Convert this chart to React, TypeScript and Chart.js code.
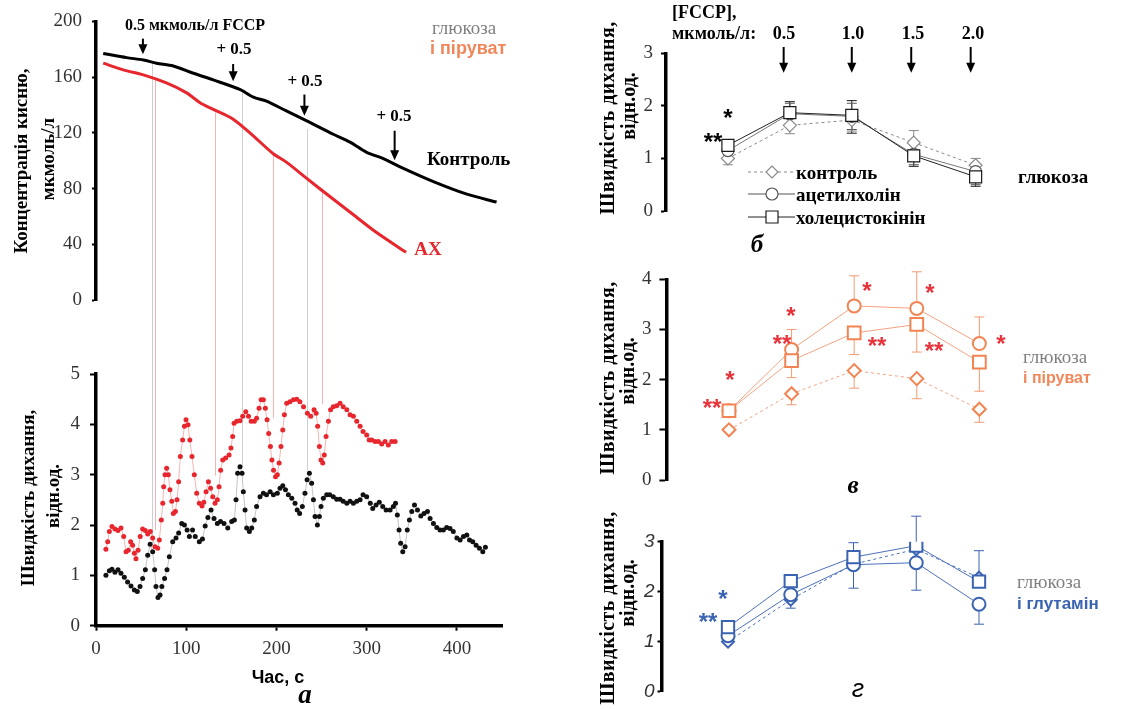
import React, { useEffect, useRef } from 'react';
import { Chart, registerables } from 'chart.js';
Chart.register(...registerables);

const SERIF = '"Liberation Serif", "Times New Roman", serif';
const SANS = '"Liberation Sans", Arial, sans-serif';
const RED = '#E8262D';
const ORANGE = '#F28454';
const ORANGE_LINE = '#F6A282';
const BLUE = '#3A63B2';
const STAR_RED = '#E8333B';

// ---------- Panel a (top): oxygen concentration ----------
const o2TimeControl = [8, 34, 52.5, 67, 85.7, 108, 130, 160, 174.4, 189, 211, 233.6, 263, 281.6, 300, 318.5, 337, 374, 411, 444];
const o2Control = [177, 174, 172.3, 170, 168, 162.8, 158, 151, 145.6, 142.8, 135.7, 128.6, 119, 113.3, 106, 101.5, 95.6, 85, 76, 70.3];
const o2TimeAch = [8, 30.3, 52.5, 78, 100.5, 115.3, 130, 152, 174, 196.5, 211, 233.6, 252, 285, 311, 343.7];
const o2Ach = [170, 165.2, 161.6, 155.8, 148.7, 141.6, 136.8, 129.8, 118, 105, 99, 87.3, 77.9, 61.4, 48.4, 34.2];
const o2TickStep = 40;

const fccpArrowTime = [52, 152, 231, 331];
const fccpArrowTail = [187.6, 169.4, 147.5, 121.5];
const fccpArrowTip = [176.5, 157, 132.2, 100.3];

// guide lines linking both plots of panel a
const guideTime = [62, 65.5, 132, 162, 196.5, 234, 250];
const guideKind = ['k', 'r', 'r', 'k', 'r', 'k', 'r'];
const guideTopO2 = [170.4, 159.3, 134.5, 149.9, 105, 122.7, 80.2];
const guideRate = [1.64, 1.9, 2.98, 3.16, 4.12, 3.08, 4.4];

// ---------- Panel a (bottom): respiration rate ----------
const rateTimeControl = [
  11, 14.8, 17.7, 21, 24.4, 27.7, 31.4, 35, 38.8, 42.5,
  45.8, 48.8, 51.7, 54.7, 57.3, 60, 62.8, 65, 66.5, 68.7,
  71, 73, 76, 78.7, 81.3, 85, 88.7, 91.6, 95, 98,
  101, 103.5, 107, 110, 114.5, 118, 121, 124, 127.5, 130.8,
  134.5, 138, 141.9, 146, 150.4, 153.4, 155.2, 157, 159.6, 161.9,
  163.3, 165.2, 167, 170, 172.6, 175.5, 178, 181.8, 185.5, 189,
  193, 196.6, 201, 204, 207, 210, 213.2, 217, 220.6, 223,
  225.7, 228.7, 231.6, 234, 236.5, 239, 241, 242.8, 245.4, 247.6,
  249.4, 252, 255.7, 259, 263, 266.8, 270.5, 274, 278, 281.6,
  285.3, 289, 292.7, 296, 300, 304, 306.7, 310.4, 314, 317.8,
  321.5, 326, 329.6, 332, 334, 335.9, 337.7, 340, 342.6, 345,
  347.4, 350, 353, 356.3, 360, 363.6, 367.4, 370.3, 374, 377.7,
  381.3, 385, 388.7, 392.4, 396, 400, 403.6, 407.3, 411, 414,
  417.6, 421.3, 425, 428.7, 431.6,
];
const rateControl = [
  1.0, 1.09, 1.12, 1.06, 1.11, 1.04, 0.96, 0.87, 0.79, 0.71,
  0.68, 0.78, 0.94, 1.11, 1.4, 1.62, 1.47, 1.11, 0.78, 0.56,
  0.61, 0.78, 0.94, 1.11, 1.37, 1.67, 1.74, 1.84, 2.03, 2.0,
  1.9, 1.77, 1.9, 1.77, 1.67, 1.72, 1.98, 2.15, 2.3, 2.13,
  2.03, 2.07, 2.03, 1.94, 2.07, 2.1, 2.5, 3.03, 3.16, 3.03,
  2.66, 2.3, 1.94, 1.87, 1.94, 2.1, 2.37, 2.56, 2.63, 2.6,
  2.66, 2.6, 2.63, 2.73, 2.78, 2.7, 2.6, 2.53, 2.43, 2.3,
  2.23, 2.37, 2.63, 2.9, 3.03, 2.83, 2.5, 2.17, 2.0, 2.17,
  2.37, 2.53, 2.6, 2.6, 2.56, 2.51, 2.51, 2.47, 2.43, 2.47,
  2.43, 2.47, 2.5, 2.6, 2.56, 2.43, 2.33, 2.4, 2.45, 2.37,
  2.3, 2.3, 2.37, 2.43, 2.2, 1.9, 1.64, 1.47, 1.57, 1.9,
  2.1, 2.27, 2.4, 2.3, 2.18, 2.23, 2.27, 2.13, 2.03, 1.95,
  1.9, 1.9, 1.95, 1.93, 1.87, 1.74, 1.7, 1.77, 1.8, 1.7,
  1.67, 1.6, 1.54, 1.47, 1.56,
];
const rateTimeAch = [
  11, 13, 14.8, 17.7, 21, 24.4, 27.7, 30.7, 33.3, 35.8,
  38.4, 40.6, 42.5, 44.3, 46.6, 49, 51.7, 54.7, 57.3, 60.2,
  62.8, 65.4, 68.4, 70.2, 72.4, 74, 75, 76.5, 78.3, 80.2,
  82, 84, 85.7, 88, 89.8, 91.6, 93.5, 96, 98, 99.8,
  102, 104, 106.4, 109, 111.6, 114.5, 117.5, 119.5, 122, 124.6,
  127, 129.4, 131.9, 134.5, 136.4, 138.2, 140.5, 143.7, 147.5, 149.6,
  151.5, 153, 156, 159.6, 162.6, 166, 169, 172, 175.5, 178,
  180.7, 183, 185.5, 187.7, 189.6, 191.4, 193.3, 195, 196.8, 199,
  201, 203, 205, 207, 208.8, 211.4, 215, 218.8, 222.5, 226,
  230, 234.3, 238, 241.7, 244, 245.7, 247.6, 249.4, 251.3, 253,
  255, 257.6, 260, 263, 266.8, 270.5, 274, 278, 281.6, 285.3,
  289, 292.7, 296, 300, 302.8, 305.7, 309.4, 313, 316.7, 320.4,
  324, 327.8, 331.5,
];
const rateAch = [
  1.52, 1.67, 1.87, 1.97, 1.92, 1.89, 1.94, 1.77, 1.47, 1.5,
  1.67, 1.6, 1.44, 1.33, 1.5, 1.77, 1.92, 1.89, 1.82, 1.87,
  1.74, 1.57, 1.54, 1.7, 2.1, 2.43, 2.76, 3.0, 3.13, 3.0,
  2.7, 2.47, 2.23, 2.27, 2.5, 2.86, 3.36, 3.69, 3.96, 4.09,
  3.99, 3.69, 3.36, 3.0, 2.63, 2.43, 2.38, 2.45, 2.66, 2.86,
  2.73, 2.56, 2.43, 2.5, 2.76, 3.09, 3.29, 3.33, 3.39, 3.53,
  3.76, 4.02, 4.06, 4.07, 4.16, 4.25, 4.16, 4.06, 4.06, 4.12,
  4.32, 4.49, 4.49, 4.32, 4.09, 3.82, 3.56, 3.29, 3.09, 2.96,
  3.0, 3.23, 3.56, 3.89, 4.19, 4.42, 4.45, 4.49, 4.5, 4.45,
  4.35, 4.22, 4.16, 4.29, 4.22, 3.96, 3.56, 3.29, 3.23, 3.39,
  3.76, 4.06, 4.29, 4.35, 4.37, 4.42, 4.35, 4.29, 4.19, 4.16,
  4.06, 3.96, 3.86, 3.79, 3.69, 3.69, 3.66, 3.66, 3.61, 3.66,
  3.59, 3.66, 3.66,
];

// ---------- Panels б, в, г ----------
const fccpDose = [0, 0.5, 1.0, 1.5, 2.0];
const doseArrowX = [0.45, 1.0, 1.48, 1.96];
const doseArrowTail = 3.12;
const doseArrowTip = 2.63;

// б: glucose
const bControl = [1.0, 1.63, 1.73, 1.3, 0.87];
const bAch = [1.15, 1.85, 1.8, 1.08, 0.75];
const bCck = [1.25, 1.87, 1.82, 1.05, 0.65];
const bControlLow = [0.88, 1.47, 1.52, null, null];
const bControlHigh = [null, null, null, 1.53, 1.0];
const bAchLow = [null, null, 1.55, 0.88, 0.5];
const bAchHigh = [null, 2.05, 2.05, null, null];
const bCckLow = [null, null, 1.48, 0.85, 0.47];
const bCckHigh = [null, 2.08, 2.1, null, null];

// в: glucose + pyruvate
const vControl = [1.0, 1.72, 2.18, 2.02, 1.41];
const vAch = [1.38, 2.6, 3.47, 3.42, 2.72];
const vCck = [1.38, 2.38, 2.93, 3.1, 2.35];
const vControlLow = [null, 1.5, 1.83, 1.62, 1.15];
const vAchHigh = [null, 3.0, 4.07, 4.15, 3.25];
const vCckLow = [null, 2.04, 2.5, 2.55, 1.77];

// г: glucose + glutamine
const gControl = [1.0, 1.84, 2.55, 2.85, 2.28];
const gAch = [1.12, 1.94, 2.54, 2.58, 1.75];
const gCck = [1.29, 2.21, 2.69, 2.92, 2.2];
const gControlLow = [null, 1.67, null, null, null];
const gAchLow = [null, null, 2.07, 2.03, 1.35];
const gCckHigh = [null, null, 2.98, 3.51, 2.82];

const legendLabels = ['контроль', 'ацетилхолін', 'холецистокінін'];

// ---------- helpers ----------
const pts = (xs: number[], ys: number[]) => xs.map((x, i) => ({ x, y: ys[i] }));

function drawArrow(ctx: CanvasRenderingContext2D, x: number, y1: number, y2: number) {
  const head = 10, hw = 4.5;
  ctx.save();
  ctx.strokeStyle = '#000';
  ctx.fillStyle = '#000';
  ctx.lineWidth = 2;
  ctx.beginPath();
  ctx.moveTo(x, y1);
  ctx.lineTo(x, y2 - head + 1);
  ctx.stroke();
  ctx.beginPath();
  ctx.moveTo(x - hw, y2 - head);
  ctx.lineTo(x + hw, y2 - head);
  ctx.lineTo(x, y2);
  ctx.closePath();
  ctx.fill();
  ctx.restore();
}

function drawMarker(ctx: CanvasRenderingContext2D, style: string, x: number, y: number, r: number) {
  ctx.beginPath();
  if (style === 'circle') ctx.arc(x, y, r, 0, Math.PI * 2);
  else if (style === 'rect') {
    const s = r * Math.SQRT1_2;
    ctx.rect(x - s, y - s, 2 * s, 2 * s);
  } else {
    ctx.moveTo(x, y - r);
    ctx.lineTo(x + r, y);
    ctx.lineTo(x, y + r);
    ctx.lineTo(x - r, y);
    ctx.closePath();
  }
  ctx.fillStyle = '#fff';
  ctx.fill();
  ctx.stroke();
}

function yAxis(min: number, max: number, step: number, width: number, font: any, tickLen: number, pad: number) {
  return {
    type: 'linear',
    position: 'left',
    min,
    max,
    ticks: { stepSize: step, font, color: '#333', padding: pad, includeBounds: false },
    grid: { drawOnChartArea: false, drawTicks: true, tickLength: tickLen, tickWidth: 2, tickColor: '#000' },
    border: { display: true, color: '#000', width: 3.5 },
    afterFit: (s: any) => {
      s.width = width;
    },
  };
}

function xHidden(min: number, max: number) {
  return { type: 'linear', display: false, min, max };
}

function baseOptions(padding: any, scales: any) {
  return {
    responsive: false,
    maintainAspectRatio: false,
    animation: false,
    events: [],
    layout: { padding },
    plugins: { legend: { display: false }, tooltip: { enabled: false } },
    scales,
  };
}

const errorBarsPlugin = {
  id: 'errorBars',
  beforeDatasetsDraw(chart: any) {
    const { ctx } = chart;
    const x = chart.scales.x;
    const y = chart.scales.y;
    chart.data.datasets.forEach((ds: any) => {
      ctx.save();
      ctx.strokeStyle = ds.errColor || ds.borderColor;
      ctx.lineWidth = 1;
      ds.data.forEach((p: any, i: number) => {
        const px = x.getPixelForValue(p.x);
        const py = y.getPixelForValue(p.y);
        [ds.errLow ? ds.errLow[i] : null, ds.errHigh ? ds.errHigh[i] : null].forEach((v: any) => {
          if (v == null) return;
          const ey = y.getPixelForValue(v);
          ctx.beginPath();
          ctx.moveTo(px, py);
          ctx.lineTo(px, ey);
          ctx.moveTo(px - 5, ey);
          ctx.lineTo(px + 5, ey);
          ctx.stroke();
        });
      });
      ctx.restore();
    });
  },
};

// ---------- chart configs ----------
const tlConfig = () => ({
  type: 'line',
  data: {
    datasets: [
      { data: pts(o2TimeControl, o2Control), borderColor: '#000', borderWidth: 3, pointRadius: 0, tension: 0.3 },
      { data: pts(o2TimeAch, o2Ach), borderColor: RED, borderWidth: 3, pointRadius: 0, tension: 0.3 },
    ],
  },
  options: baseOptions(
    { top: 17.5, right: 18, bottom: 30, left: 0 },
    {
      x: xHidden(0, 450),
      y: yAxis(0, 200, o2TickStep, 96, { family: SERIF, size: 19 }, 4, 10),
    }
  ),
  plugins: [
    {
      id: 'tlExtras',
      beforeDatasetsDraw(chart: any) {
        const { ctx } = chart;
        const x = chart.scales.x;
        const y = chart.scales.y;
        ctx.save();
        ctx.lineWidth = 1;
        guideTime.forEach((t, i) => {
          const px = Math.round(x.getPixelForValue(t)) + 0.5;
          ctx.strokeStyle = guideKind[i] === 'k' ? '#cfcfcf' : '#f4b4b4';
          ctx.beginPath();
          ctx.moveTo(px, y.getPixelForValue(guideTopO2[i]));
          ctx.lineTo(px, chart.height);
          ctx.stroke();
        });
        ctx.restore();
      },
      afterDatasetsDraw(chart: any) {
        const { ctx } = chart;
        const x = chart.scales.x;
        const y = chart.scales.y;
        fccpArrowTime.forEach((t, i) => {
          drawArrow(ctx, x.getPixelForValue(t), y.getPixelForValue(fccpArrowTail[i]), y.getPixelForValue(fccpArrowTip[i]));
        });
      },
    },
  ],
});

const blConfig = () => ({
  type: 'line',
  data: {
    datasets: [
      {
        data: pts(rateTimeAch, rateAch),
        borderColor: '#f6b3b3',
        borderWidth: 1,
        pointRadius: 2.5,
        pointBorderWidth: 0,
        pointBackgroundColor: RED,
      },
      {
        data: pts(rateTimeControl, rateControl),
        borderColor: '#c4c4c4',
        borderWidth: 1,
        pointRadius: 2.5,
        pointBorderWidth: 0,
        pointBackgroundColor: '#111',
      },
    ],
  },
  options: baseOptions(
    { top: 44, right: 18, bottom: 0, left: 0 },
    {
      x: {
        type: 'linear',
        min: 0,
        max: 450,
        ticks: { stepSize: 100, includeBounds: false, font: { family: SERIF, size: 19 }, color: '#333', padding: 7 },
        grid: { drawOnChartArea: false, drawTicks: true, tickLength: 5, tickWidth: 2, tickColor: '#000' },
        border: { display: true, color: '#000', width: 3.5 },
        afterFit: (s: any) => {
          s.height = 83.3;
        },
      },
      y: yAxis(0, 5, 1, 96, { family: SERIF, size: 19 }, 6, 10),
    }
  ),
  plugins: [
    {
      id: 'blGuides',
      beforeDatasetsDraw(chart: any) {
        const { ctx } = chart;
        const x = chart.scales.x;
        const y = chart.scales.y;
        ctx.save();
        ctx.lineWidth = 1;
        guideTime.forEach((t, i) => {
          const px = Math.round(x.getPixelForValue(t)) + 0.5;
          ctx.strokeStyle = guideKind[i] === 'k' ? '#cfcfcf' : '#f4b4b4';
          ctx.beginPath();
          ctx.moveTo(px, 0);
          ctx.lineTo(px, y.getPixelForValue(guideRate[i]));
          ctx.stroke();
        });
        ctx.restore();
      },
    },
  ],
});

function doseDatasets(
  control: number[], ach: number[], cck: number[],
  style: { controlColor: string; achColor: string; cckColor: string; lineControl: string; lineAch: string; lineCck: string; errColor?: string; pbw: number; rSq: number; rCi: number; rDi: number },
  err: { cLow?: any[]; cHigh?: any[]; aLow?: any[]; aHigh?: any[]; kLow?: any[]; kHigh?: any[] }
) {
  const common = { borderWidth: 1, pointBackgroundColor: '#fff', pointBorderWidth: style.pbw };
  return [
    {
      ...common,
      data: pts(fccpDose, cck),
      borderColor: style.lineCck,
      pointBorderColor: style.cckColor,
      pointStyle: 'rect',
      pointRadius: style.rSq,
      errLow: err.kLow,
      errHigh: err.kHigh,
      errColor: style.errColor || style.cckColor,
    },
    {
      ...common,
      data: pts(fccpDose, ach),
      borderColor: style.lineAch,
      pointBorderColor: style.achColor,
      pointStyle: 'circle',
      pointRadius: style.rCi,
      errLow: err.aLow,
      errHigh: err.aHigh,
      errColor: style.errColor || style.achColor,
    },
    {
      ...common,
      data: pts(fccpDose, control),
      borderColor: style.lineControl,
      borderDash: [3, 3],
      pointBorderColor: style.controlColor,
      pointStyle: 'rectRot',
      pointRadius: style.rDi,
      errLow: err.cLow,
      errHigh: err.cHigh,
      errColor: style.errColor || style.controlColor,
    },
  ];
}

const bConfig = () => ({
  type: 'line',
  data: {
    datasets: doseDatasets(
      bControl, bAch, bCck,
      { controlColor: '#8a8a8a', achColor: '#555', cckColor: '#1a1a1a', lineControl: '#8a8a8a', lineAch: '#777', lineCck: '#222', pbw: 1.2, rSq: 8.5, rCi: 6, rDi: 6.5 },
      { cLow: bControlLow, cHigh: bControlHigh, aLow: bAchLow, aHigh: bAchHigh, kLow: bCckLow, kHigh: bCckHigh }
    ),
  },
  options: baseOptions(
    { top: 53.3, right: 121.6, bottom: 29, left: 0 },
    { x: xHidden(-0.5, 2.2), y: yAxis(0, 3, 1, 106, { family: SERIF, size: 19 }, 5, 8) }
  ),
  plugins: [
    errorBarsPlugin,
    {
      id: 'bExtras',
      afterDatasetsDraw(chart: any) {
        const { ctx } = chart;
        const x = chart.scales.x;
        const y = chart.scales.y;
        doseArrowX.forEach((d) => {
          drawArrow(ctx, x.getPixelForValue(d), y.getPixelForValue(doseArrowTail), y.getPixelForValue(doseArrowTip));
        });
        // legend symbols
        const rows = [172, 194, 217];
        const styles = [
          { s: 'rectRot', c: '#8a8a8a', l: '#8a8a8a', dash: [3, 3], r: 6 },
          { s: 'circle', c: '#555', l: '#555', dash: [], r: 6 },
          { s: 'rect', c: '#1a1a1a', l: '#222', dash: [], r: 8.5 },
        ];
        ctx.save();
        rows.forEach((ry, i) => {
          const st = styles[i];
          ctx.strokeStyle = st.l;
          ctx.lineWidth = 1;
          ctx.setLineDash(st.dash);
          ctx.beginPath();
          ctx.moveTo(188, ry);
          ctx.lineTo(235, ry);
          ctx.stroke();
          ctx.setLineDash([]);
          ctx.strokeStyle = st.c;
          ctx.lineWidth = 1.2;
          drawMarker(ctx, st.s, 212, ry, st.r);
        });
        ctx.restore();
      },
    },
  ],
});

const vConfig = () => ({
  type: 'line',
  data: {
    datasets: doseDatasets(
      vControl, vAch, vCck,
      { controlColor: ORANGE, achColor: ORANGE, cckColor: ORANGE, lineControl: ORANGE_LINE, lineAch: ORANGE_LINE, lineCck: ORANGE_LINE, errColor: '#F39A72', pbw: 2, rSq: 9, rCi: 6.5, rDi: 6.5 },
      { cLow: vControlLow, aHigh: vAchHigh, kLow: vCckLow }
    ),
  },
  options: baseOptions(
    { top: 39.3, right: 117.6, bottom: 20, left: 0 },
    { x: xHidden(-0.5, 2.2), y: yAxis(0, 4, 1, 106.4, { family: SERIF, size: 19 }, 7, 8) }
  ),
  plugins: [errorBarsPlugin],
});

const gConfig = () => ({
  type: 'line',
  data: {
    datasets: doseDatasets(
      gControl, gAch, gCck,
      { controlColor: BLUE, achColor: BLUE, cckColor: BLUE, lineControl: '#4a70ba', lineAch: '#4a70ba', lineCck: '#4a70ba', pbw: 2, rSq: 8.7, rCi: 6.5, rDi: 6 },
      { cLow: gControlLow, aLow: gAchLow, kHigh: gCckHigh }
    ),
  },
  options: baseOptions(
    { top: 41.7, right: 117.9, bottom: 17.3, left: 0 },
    { x: xHidden(-0.53, 2.2), y: yAxis(0, 3, 1, 101.5, { family: SANS, size: 19, style: 'italic' }, 4, 3) }
  ),
  plugins: [errorBarsPlugin],
});

// ---------- components ----------
function ChartCanvas({ left, top, w, h, config }: { left: number; top: number; w: number; h: number; config: () => any }) {
  const ref = useRef<HTMLCanvasElement>(null);
  useEffect(() => {
    const chart = new Chart(ref.current as HTMLCanvasElement, config());
    return () => chart.destroy();
  }, []);
  return <canvas ref={ref} width={w} height={h} style={{ position: 'absolute', left, top, width: w, height: h }} />;
}

type Lbl = { t: string; x: number; y: number; f: string; c?: string; rot?: boolean; left?: boolean; star?: boolean; ls?: number };

const B = (s: number, fam: string) => `bold ${s}px ${fam}`;
const labels: Lbl[] = [
  // panel a
  { t: '0.5 мкмоль/л FCCP', x: 195, y: 25, f: B(16, SERIF) },
  { t: '+ 0.5', x: 234, y: 48, f: B(17, SERIF) },
  { t: '+ 0.5', x: 305, y: 80, f: B(17, SERIF) },
  { t: '+ 0.5', x: 394, y: 115, f: B(17, SERIF) },
  { t: 'Контроль', x: 427, y: 158, f: B(19, SERIF), left: true },
  { t: 'АХ', x: 428, y: 248, f: B(19, SERIF), c: RED },
  { t: 'глюкоза', x: 432, y: 27, f: `19px ${SERIF}`, c: '#808080', left: true },
  { t: 'і піруват', x: 430, y: 48, f: B(18, SANS), c: '#F0875A', left: true },
  { t: 'Концентрація кисню,', x: 20, y: 161, f: B(19, SERIF), rot: true },
  { t: 'мкмоль/л', x: 47, y: 159, f: B(19, SERIF), rot: true },
  { t: 'Швидкість дихання,', x: 27, y: 498, f: B(19, SERIF), rot: true },
  { t: 'відн.од.', x: 52, y: 496, f: B(19, SERIF), rot: true },
  { t: 'Час, с', x: 278, y: 677, f: B(18, SANS) },
  { t: 'а', x: 305, y: 694, f: `italic bold 27px ${SERIF}` },
  // panel б
  { t: '[FCCP],', x: 672, y: 12, f: B(18, SERIF), left: true },
  { t: 'мкмоль/л:', x: 672, y: 33, f: B(18, SERIF), left: true },
  { t: '0.5', x: 784, y: 33, f: B(18, SERIF) },
  { t: '1.0', x: 853, y: 33, f: B(18, SERIF) },
  { t: '1.5', x: 913, y: 33, f: B(18, SERIF) },
  { t: '2.0', x: 973, y: 33, f: B(18, SERIF) },
  { t: legendLabels[0], x: 796, y: 172, f: B(19, SERIF), left: true },
  { t: legendLabels[1], x: 796, y: 194, f: B(19, SERIF), left: true },
  { t: legendLabels[2], x: 796, y: 217, f: B(19, SERIF), left: true },
  { t: 'глюкоза', x: 1018, y: 176, f: B(19, SERIF), left: true },
  { t: 'б', x: 757, y: 243, f: `italic bold 25px ${SERIF}` },
  { t: 'Швидкість дихання,', x: 607, y: 118, f: B(20, SERIF), rot: true, ls: 0.4 },
  { t: 'відн.од.', x: 628, y: 106, f: B(20, SERIF), rot: true },
  { t: '*', x: 728, y: 113, f: B(24, SANS), star: true },
  { t: '**', x: 713, y: 137, f: B(24, SANS), star: true },
  // panel в
  { t: 'Швидкість дихання,', x: 607, y: 378, f: B(20, SERIF), rot: true, ls: 0.4 },
  { t: 'відн.од.', x: 627, y: 371, f: B(20, SERIF), rot: true },
  { t: 'глюкоза', x: 1023, y: 356, f: `19px ${SERIF}`, c: '#808080', left: true },
  { t: 'і піруват', x: 1023, y: 378, f: B(16, SANS), c: '#F0875A', left: true },
  { t: 'в', x: 853, y: 484, f: `italic bold 25px ${SERIF}` },
  { t: '*', x: 730, y: 375, f: B(24, SANS), c: STAR_RED, star: true },
  { t: '**', x: 712, y: 403, f: B(24, SANS), c: STAR_RED, star: true },
  { t: '*', x: 791, y: 311, f: B(24, SANS), c: STAR_RED, star: true },
  { t: '**', x: 782, y: 339, f: B(24, SANS), c: STAR_RED, star: true },
  { t: '*', x: 867, y: 286, f: B(24, SANS), c: STAR_RED, star: true },
  { t: '**', x: 877, y: 341, f: B(24, SANS), c: STAR_RED, star: true },
  { t: '*', x: 930, y: 288, f: B(24, SANS), c: STAR_RED, star: true },
  { t: '**', x: 934, y: 346, f: B(24, SANS), c: STAR_RED, star: true },
  { t: '*', x: 1001, y: 339, f: B(24, SANS), c: STAR_RED, star: true },
  // panel г
  { t: 'Швидкість дихання,', x: 607, y: 608, f: B(20, SERIF), rot: true, ls: 0.4 },
  { t: 'відн.од.', x: 627, y: 593, f: B(20, SERIF), rot: true },
  { t: 'глюкоза', x: 1017, y: 581, f: `19px ${SERIF}`, c: '#808080', left: true },
  { t: 'і глутамін', x: 1017, y: 603, f: B(17, SANS), c: BLUE, left: true },
  { t: 'г', x: 858, y: 688, f: `italic 25px ${SANS}` },
  { t: '*', x: 723, y: 594, f: B(24, SANS), c: BLUE, star: true },
  { t: '**', x: 708, y: 617, f: B(24, SANS), c: BLUE, star: true },
];

function Label({ l }: { l: Lbl }) {
  let transform = l.left ? 'translate(0,-50%)' : 'translate(-50%,-50%)';
  if (l.rot) transform = 'translate(-50%,-50%) rotate(-90deg)';
  const top = l.star ? l.y + 5 : l.y;
  return (
    <div
      style={{
        position: 'absolute',
        left: l.x,
        top,
        transform,
        font: l.f,
        color: l.c || '#000',
        lineHeight: 1,
        whiteSpace: 'nowrap',
        letterSpacing: l.ls ? `${l.ls}px` : undefined,
      }}
    >
      {l.t}
    </div>
  );
}

export default function App() {
  return (
    <div style={{ position: 'absolute', left: 0, top: 0, width: 1122, height: 709, overflow: 'hidden', background: '#fff' }}>
      <ChartCanvas left={0} top={0} w={520} h={330} config={tlConfig} />
      <ChartCanvas left={0} top={330} w={520} h={379} config={blConfig} />
      <ChartCanvas left={560} top={0} w={562} h={240} config={bConfig} />
      <ChartCanvas left={560} top={240} w={562} h={260} config={vConfig} />
      <ChartCanvas left={560} top={500} w={562} h={209} config={gConfig} />
      {labels.map((l, i) => (
        <Label key={i} l={l} />
      ))}
    </div>
  );
}
